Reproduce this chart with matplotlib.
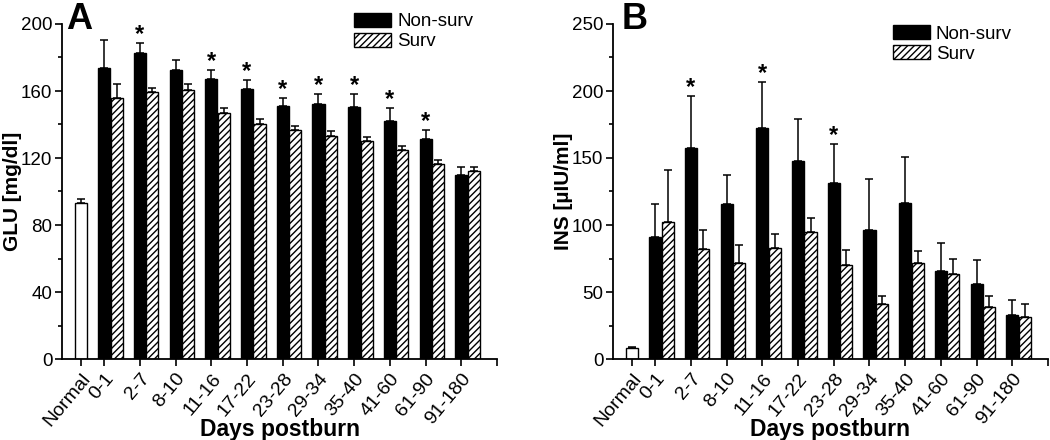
import matplotlib
matplotlib.use("Agg")
import matplotlib.pyplot as plt
import numpy as np

plt.rcParams['font.family'] = ['Liberation Sans', 'DejaVu Sans']
plt.rcParams['hatch.linewidth'] = 1.0

categories = ["0-1", "2-7", "8-10", "11-16", "17-22", "23-28", "29-34",
              "35-40", "41-60", "61-90", "91-180"]
normal_label = "Normal"

# Panel A: glucose
glu_normal = 93.0
glu_normal_err = 2.5
glu_nonsurv = [173.5, 182.7, 172.5, 167.0, 161.2, 151.0, 152.0, 150.6, 142.1, 131.1, 110.0]
glu_nonsurv_err = [16.7, 6.0, 5.8, 5.5, 5.4, 4.6, 6.4, 7.8, 7.8, 5.8, 4.8]
glu_surv = [155.8, 159.2, 160.4, 146.9, 140.1, 136.5, 133.1, 130.0, 124.8, 116.4, 112.2]
glu_surv_err = [8.4, 2.6, 3.8, 3.0, 3.0, 2.8, 3.0, 2.3, 2.4, 2.4, 2.6]
glu_sig = [False, True, False, True, True, True, True, True, True, True, False]

# Panel B: insulin
ins_normal = 8.0
ins_normal_err = 1.0
ins_nonsurv = [91.3, 157.2, 115.7, 172.6, 148.0, 131.6, 96.3, 116.7, 65.9, 56.2, 32.8]
ins_nonsurv_err = [24.1, 39.1, 21.6, 34.1, 31.1, 28.6, 37.8, 33.8, 20.9, 17.7, 11.0]
ins_surv = [102.5, 82.1, 71.9, 83.1, 95.0, 70.1, 41.0, 71.4, 63.4, 39.0, 31.3]
ins_surv_err = [38.5, 14.2, 12.9, 9.9, 10.5, 11.2, 5.8, 9.4, 11.5, 7.8, 9.7]
ins_sig = [False, True, False, True, False, True, False, False, False, False, False]

fig = plt.figure(figsize=(10.5, 4.4), dpi=100)
W, H = 1050, 440


def make_axes(left_px, right_px, top_px, bottom_px):
    return fig.add_axes([left_px / W, 1 - bottom_px / H,
                         (right_px - left_px) / W, (bottom_px - top_px) / H])


def draw_panel(ax, normal, normal_err, nonsurv, nonsurv_err, surv, surv_err,
               sig, ymax, ymajor, yminor, ylabel, ylabel_x, legend_x, legend_y):
    x = np.arange(len(categories))
    xn = -0.65
    bw = 0.34
    off = 0.35
    ax.bar(xn, normal, width=0.36, color='white', edgecolor='black', linewidth=1.0, zorder=2)
    ax.bar(x, nonsurv, width=bw, color='black', edgecolor='black', linewidth=1.0,
           zorder=2, label='Non-surv')
    ax.bar(x + off, surv, width=bw, color='white', edgecolor='black', linewidth=1.0,
           hatch='/////', zorder=2, label='Surv')
    ekw = dict(fmt='none', ecolor='black', elinewidth=1.1, capsize=3.2, capthick=1.1, zorder=3)
    ax.errorbar([xn], [normal], yerr=[[0], [normal_err]], **ekw)
    ax.errorbar(x, nonsurv, yerr=[np.zeros(len(x)), nonsurv_err], **ekw)
    ax.errorbar(x + off, surv, yerr=[np.zeros(len(x)), surv_err], **ekw)
    for xi, m, e, s in zip(x, nonsurv, nonsurv_err, sig):
        if s:
            ax.annotate('*', xy=(xi, m + e), xytext=(0, 1.5), textcoords='offset points',
                        ha='center', va='baseline', fontsize=17, fontweight='bold')
    ax.set_xlim(-1.18, 11.0)
    ax.set_ylim(0, ymax)
    ax.set_yticks(np.arange(0, ymax + 1, ymajor))
    ax.set_yticks(np.arange(yminor, ymax, ymajor), minor=True)
    ax.set_xticks([xn] + list(x))
    ax.set_xticklabels([normal_label] + categories, rotation=50, ha='right',
                       rotation_mode='anchor', fontsize=14)
    ax.set_xticks([10.99], minor=True)
    ax.tick_params(axis='y', which='major', length=5, width=1.2, labelsize=13.5, pad=2)
    ax.tick_params(axis='y', which='minor', length=3, width=1.2)
    ax.tick_params(axis='x', which='both', length=5, width=1.2, pad=3)
    for sp in ['top', 'right']:
        ax.spines[sp].set_visible(False)
    for sp in ['left', 'bottom']:
        ax.spines[sp].set_linewidth(1.3)
    ax.set_ylabel(ylabel, fontsize=15, fontweight='bold')
    ax.yaxis.set_label_coords(ylabel_x, 0.5)
    ax.set_xlabel('Days postburn', fontsize=16.5, fontweight='bold')
    ax.xaxis.set_label_coords(0.5, -0.175)
    ax.legend(loc='upper left', bbox_to_anchor=(legend_x, legend_y), frameon=False,
              fontsize=13.5, handlelength=2.0, handleheight=0.8, handletextpad=0.3,
              labelspacing=0.12, borderpad=0, borderaxespad=0)


axA = make_axes(62, 497, 24, 359)
draw_panel(axA, glu_normal, glu_normal_err, glu_nonsurv, glu_nonsurv_err,
           glu_surv, glu_surv_err, glu_sig, 200, 40, 20, 'GLU [mg/dl]', -0.092,
           0.671, 1.034)

axB = make_axes(613, 1048, 24, 359)
draw_panel(axB, ins_normal, ins_normal_err, ins_nonsurv, ins_nonsurv_err,
           ins_surv, ins_surv_err, ins_sig, 250, 50, 25, 'INS [µIU/ml]', -0.092,
           0.643, 0.997)

fig.text(66 / W, 1 - 2 / H, 'A', fontsize=26, fontweight='bold', ha='left', va='top')
fig.text(622 / W, 1 - 2 / H, 'B', fontsize=26, fontweight='bold', ha='left', va='top')

fig.savefig('out.png', dpi=100)
